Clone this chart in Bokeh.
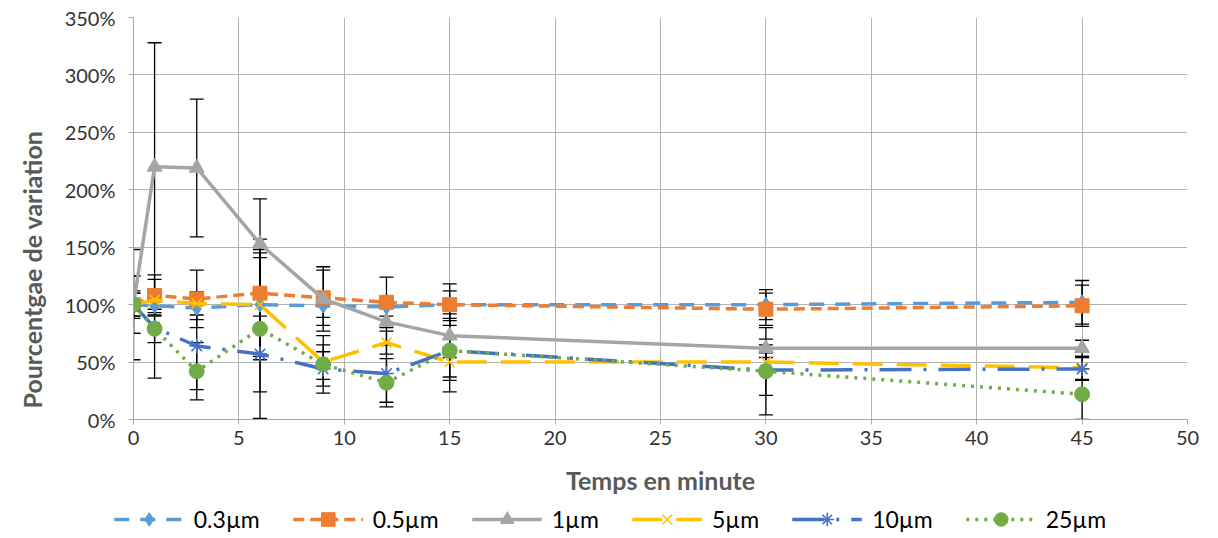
from bokeh.plotting import figure
from bokeh.layouts import column
from bokeh.models import (ColumnDataSource, Whisker, TeeHead, Legend, LegendItem, Title,
                          FixedTicker, PrintfTickFormatter, Range1d)
from bokeh.embed import file_html
from bokeh.resources import INLINE

# ---- data ----
times = [0, 1, 3, 6, 9, 12, 15, 30, 45]
series_names = ["0.3µm", "0.5µm", "1µm", "5µm", "10µm", "25µm"]

v_03 = [100, 99, 97, 100, 99, 98, 100, 100, 102]
v_05 = [100, 108, 105, 110, 106, 102, 100, 96, 99]
v_1 = [100, 220, 219, 153, 105, 85, 73, 62, 62]
v_5 = [100, 104, 101, 100, 50, 67, 50, 50, 45]
v_10 = [100, 80, 64, 57, 44, 40, 60, 43, 44]
v_25 = [100, 79, 42, 79, 48, 32, 60, 42, 22]

e_03 = [10, 8, 10, 45, 10, 8, 12, 13, 19]
e_05 = [25, 18, 25, 31, 24, 22, 18, 14, 18]
e_1 = [48, 108, 60, 39, 28, 20, 19, 8, 7]
e_5 = [12, 8, 10, 48, 15, 10, 13, 8, 10]
e_10 = [10, 13, 38, 33, 15, 25, 26, 22, 10]
e_25 = [25, 43, 25, 78, 25, 21, 36, 38, 22]

x_ticks = [0, 5, 10, 15, 20, 25, 30, 35, 40, 45, 50]
y_ticks = [0, 50, 100, 150, 200, 250, 300, 350]

values = [v_03, v_05, v_1, v_5, v_10, v_25]
errors = [e_03, e_05, e_1, e_5, e_10, e_25]

colors = ["#5B9BD5", "#ED7D31", "#A5A5A5", "#FFC000", "#4472C4", "#70AD47"]
dashes = ["15 11", "11 6", "solid", "30 14", "32 12 3 12", "3 6"]
markers = ["diamond", "square", "triangle", "x", "asterisk", "circle"]
msizes = [15, 14, 15, 14, 15, 15]

FONT = "Lato"

p = figure(width=1202, height=502, x_range=Range1d(0, 50), y_range=Range1d(0, 350),
           output_backend="svg", toolbar_location=None,
           min_border_left=133, min_border_right=15, min_border_top=17, min_border_bottom=83)
p.frame_align = False
p.outline_line_color = None
p.background_fill_color = "white"

# axes
p.xaxis.ticker = FixedTicker(ticks=x_ticks)
p.yaxis.ticker = FixedTicker(ticks=y_ticks)
p.yaxis.formatter = PrintfTickFormatter(format="%d%%")
for ax in (p.xaxis[0], p.yaxis[0]):
    ax.axis_line_color = "#A6A6A6"
    ax.major_tick_line_color = "#A6A6A6"
    ax.major_tick_out = 5
    ax.major_tick_in = 0
    ax.minor_tick_line_color = None
    ax.major_label_text_font = FONT
    ax.major_label_text_font_size = "20px"
    ax.major_label_text_color = "#333333"
    ax.axis_label_text_font = FONT
    ax.axis_label_text_font_size = "25px"
    ax.axis_label_text_font_style = "bold"
    ax.axis_label_text_color = "#595959"
p.xaxis.axis_label = "Temps en minute"
p.xaxis.major_label_standoff = 6
p.xaxis.axis_label_standoff = 17
p.yaxis.major_label_standoff = 13

ytitle = Title(text="Pourcentgae de variation", align="left", offset=11,
               vertical_align="bottom", standoff=29,
               text_font=FONT, text_font_size="25px", text_font_style="bold",
               text_color="#595959")
p.add_layout(ytitle, "left")

p.grid.grid_line_color = "#B3B3B3"
p.grid.grid_line_width = 1
p.grid.level = "image"

# legend strip under the chart (its ranges show none of the data, only the legend)
lf = figure(width=1202, height=34, x_range=Range1d(-100, -99), y_range=Range1d(-100, -99),
            output_backend="svg", toolbar_location=None, x_axis_type=None, y_axis_type=None,
            min_border_left=18, min_border_right=0, min_border_top=0, min_border_bottom=0)
lf.frame_align = False
lf.outline_line_color = None
lf.grid.visible = False

items = []
for name, vals, errs, col, dash, mk, ms in zip(series_names, values, errors, colors, dashes, markers, msizes):
    src = ColumnDataSource(dict(x=times, y=vals,
                                upper=[v + e for v, e in zip(vals, errs)],
                                lower=[v - e for v, e in zip(vals, errs)]))
    w = Whisker(base="x", upper="upper", lower="lower", source=src,
                line_color="black", line_width=1.3,
                upper_head=TeeHead(size=14, line_color="black", line_width=1.3),
                lower_head=TeeHead(size=14, line_color="black", line_width=1.3),
                level="underlay")
    p.add_layout(w)
    p.line("x", "y", source=src, line_color=col, line_width=3.5, line_dash=dash,
           line_join="round")
    mk_kw = dict(marker=mk, size=ms, line_color=col, fill_color=col)
    if mk in ("x", "asterisk"):
        mk_kw["line_width"] = 1.6
    p.scatter("x", "y", source=src, **mk_kw)

    ln2 = lf.line("x", "y", source=src, line_color=col, line_width=3.5, line_dash=dash)
    sc2 = lf.scatter("x", "y", source=src, **mk_kw)
    items.append(LegendItem(label=name, renderers=[ln2, sc2]))

legend = Legend(items=items, orientation="horizontal", location="center",
                glyph_width=70, glyph_height=34, label_standoff=10, spacing=33,
                padding=0, margin=0, border_line_color=None, background_fill_alpha=0,
                label_text_font=FONT, label_text_font_size="23px", label_text_color="#000000")
lf.add_layout(legend, "center")

layout = column(p, lf, spacing=0)
open("out.html", "w").write(file_html(layout, INLINE))
